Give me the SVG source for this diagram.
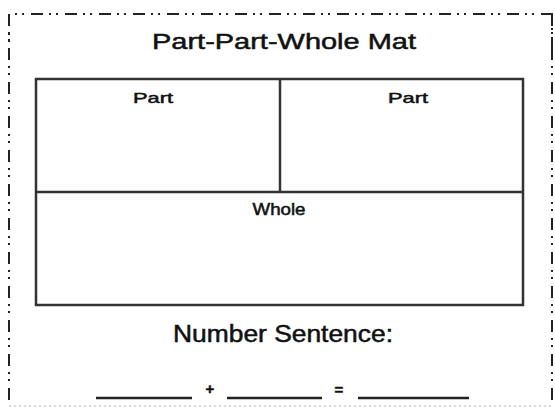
<svg xmlns="http://www.w3.org/2000/svg" width="555" height="410" viewBox="0 0 555 410">
<style>
.t{font-family:"Comic Sans MS","Liberation Sans",sans-serif;fill:#111;stroke:#111;stroke-width:0.5;text-anchor:middle}
.box{fill:none;stroke:#333;stroke-width:2.5}
.border{fill:none;stroke:#222;stroke-width:2;stroke-dasharray:12 6 2 5 2 7}
.blank{stroke:#222;stroke-width:2.5}
</style>
<rect width="555" height="410" fill="#fff"/>
<g id="border">
<path class="border" d="M9,60 V14 H552 V60"/>
<path class="border" d="M9,14 V406"/>
<path class="border" d="M552,14 V406"/>
<path d="M9,406 H552" fill="none" stroke="#ccc" stroke-width="1.5" stroke-dasharray="2 3"/>
</g>
<g id="title"><text class="t" x="284" y="49" font-size="22" textLength="264" lengthAdjust="spacingAndGlyphs">Part-Part-Whole Mat</text></g>
<g id="mat">
<rect class="box" x="36" y="79" width="487" height="226"/>
<line class="box" x1="36" y1="192" x2="523" y2="192"/>
<line class="box" x1="280" y1="79" x2="280" y2="192"/>
</g>
<g id="part1"><text class="t" x="153" y="103" font-size="15" textLength="40" lengthAdjust="spacingAndGlyphs">Part</text></g>
<g id="part2"><text class="t" x="408" y="103" font-size="15" textLength="40" lengthAdjust="spacingAndGlyphs">Part</text></g>
<g id="whole"><text class="t" x="279" y="215" font-size="16" textLength="53" lengthAdjust="spacingAndGlyphs">Whole</text></g>
<g id="sentence"><text class="t" x="283" y="342" font-size="23" textLength="220" lengthAdjust="spacingAndGlyphs">Number Sentence:</text></g>
<g id="equation">
<line class="blank" x1="96" y1="398" x2="192" y2="398"/>
<text class="t" x="210" y="394" font-size="15" font-weight="bold">+</text>
<line class="blank" x1="227" y1="398" x2="322" y2="398"/>
<text class="t" x="339" y="395" font-size="15" font-weight="bold">=</text>
<line class="blank" x1="358" y1="398" x2="469" y2="398"/>
</g>
</svg>
